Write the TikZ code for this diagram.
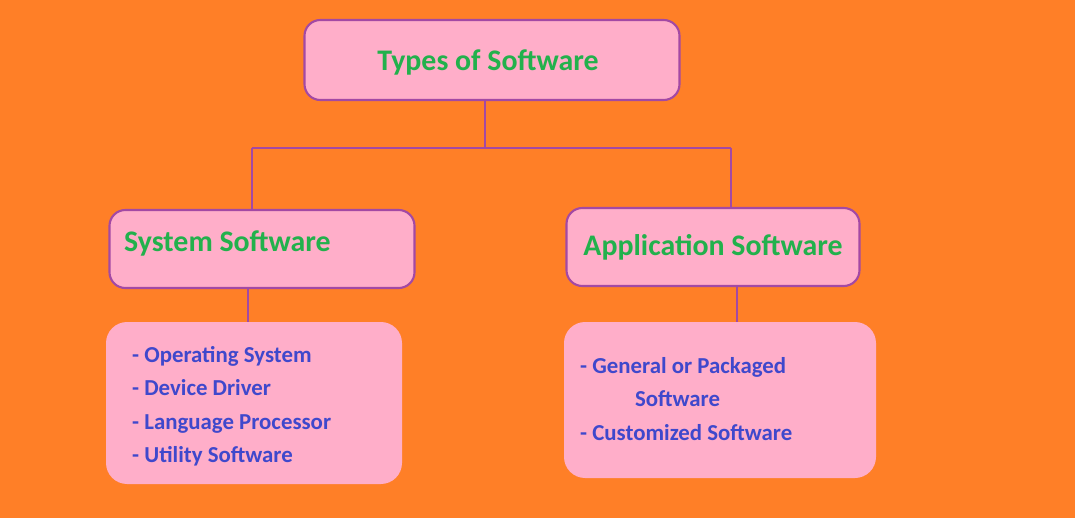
\documentclass[tikz,border=0pt]{standalone}
\usepackage{fontspec}
\setmainfont{Carlito}
\usetikzlibrary{positioning}
\definecolor{bgorange}{HTML}{FF7F27}
\definecolor{boxpink}{HTML}{FFAEC9}
\definecolor{edgepurple}{HTML}{A349A4}
\definecolor{txtgreen}{HTML}{22B14C}
\definecolor{txtblue}{HTML}{3F48CC}
\tikzset{
	headbox/.style={draw=edgepurple,line width=1.2pt,fill=boxpink,rounded corners=9pt,anchor=center},
	listbox/.style={fill=boxpink,rounded corners=12pt,anchor=center},
	headtxt/.style={text=txtgreen,font=\fontsize{17}{20}\selectfont\bfseries},
	listtxt/.style={text=txtblue,font=\fontsize{13}{19}\selectfont\bfseries,align=left,anchor=north west},
	link/.style={draw=edgepurple,line width=1.2pt},
}
\begin{document}
\begin{tikzpicture}[x=0.02cm,y=-0.02cm]
	\fill[bgorange] (0,0) rectangle (1075,518);
	\node (bTop) at (492,60) [headbox,minimum width=375*0.02cm,minimum height=80*0.02cm] {};
	\node (lblTop) at (488,62) [headtxt] {Types of Software};
	\node (bSys) at (262,249) [headbox,minimum width=305*0.02cm,minimum height=78*0.02cm] {};
	\node[anchor=west] (lblSys) at (118,243) [headtxt] {System Software};
	\node (bApp) at (713,247) [headbox,minimum width=293*0.02cm,minimum height=78*0.02cm] {};
	\node (lblApp) at (713,247) [headtxt] {Application Software};
	\node (lSys) at (254,403) [listbox,minimum width=296*0.02cm,minimum height=162*0.02cm] {};
	\node (txtSys) at (126,340) [listtxt] {- Operating System\\- Device Driver\\- Language Processor\\- Utility Software};
	\node (lApp) at (720,400) [listbox,minimum width=312*0.02cm,minimum height=156*0.02cm] {};
	\node (txtApp) at (574,351) [listtxt] {- General or Packaged\\\hspace{2.4em}Software\\- Customized Software};
	\coordinate (jn) at (485,148);
	\draw[link] (bTop.south -| jn) -- (jn);
	\draw[link] (252,148) -- (731,148);
	\draw[link] (252,148) -- (252,210);
	\draw[link] (731,148) -- (731,208);
	\draw[link] (248,288) -- (248,322);
	\draw[link] (737,286) -- (737,322);
\end{tikzpicture}
\end{document}
